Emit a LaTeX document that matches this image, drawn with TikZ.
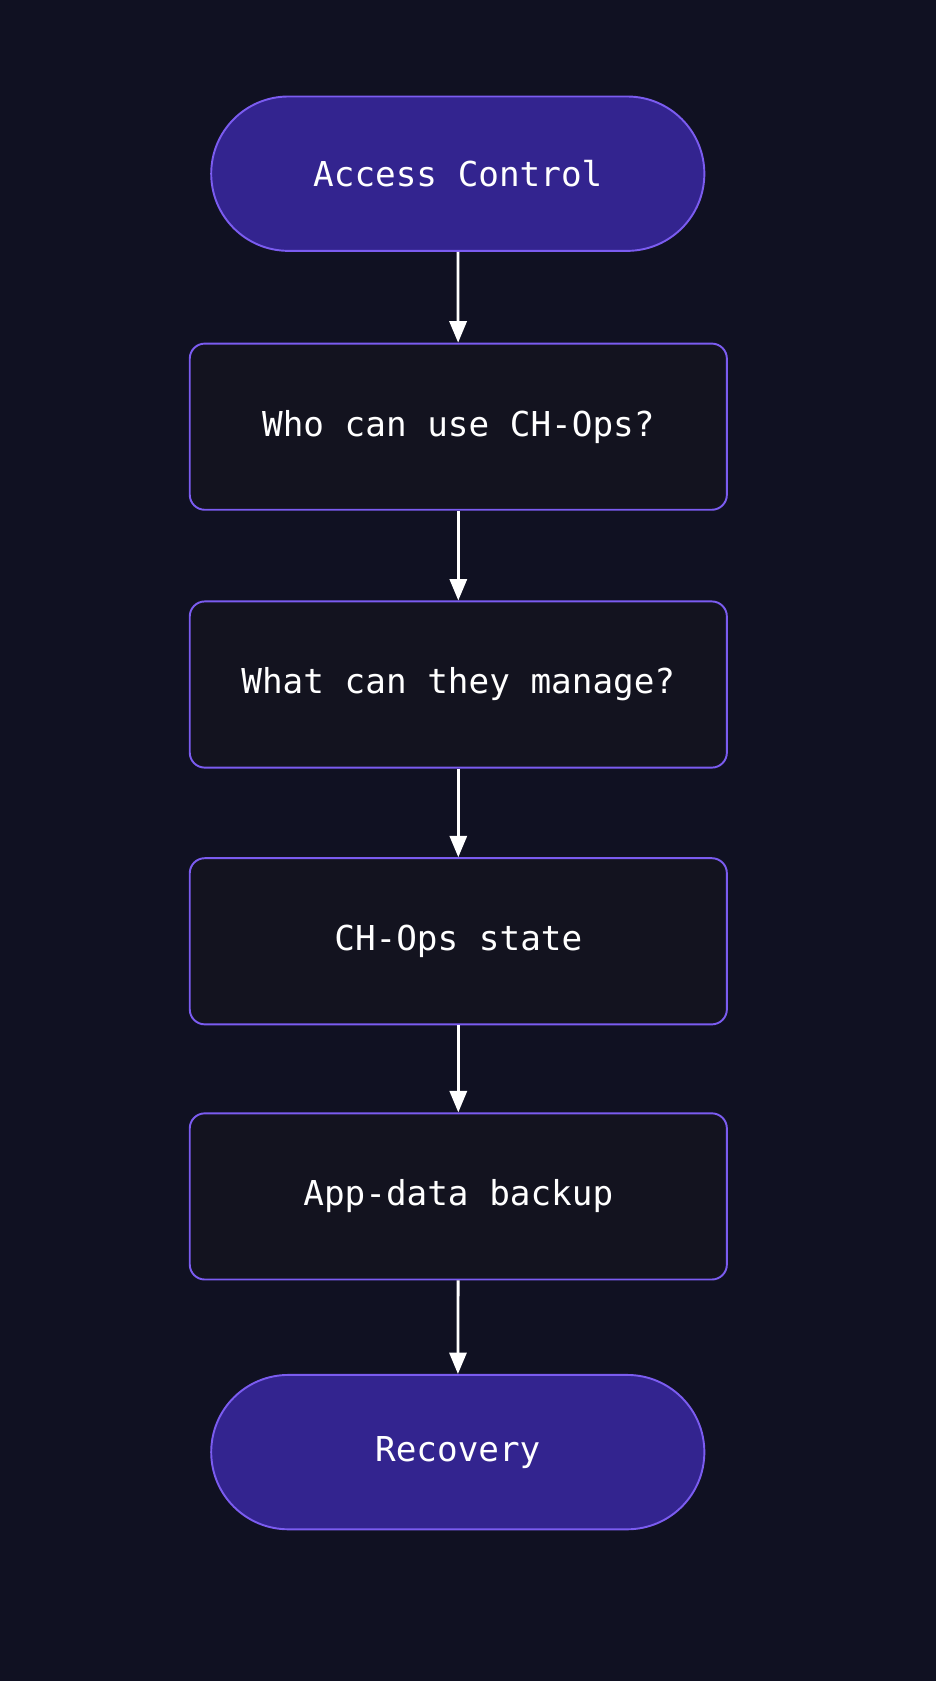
\documentclass[tikz,border=0pt]{standalone}
\usepackage{fontspec}
\setmonofont{DejaVu Sans Mono}
\usetikzlibrary{arrows.meta}
\definecolor{bg}{HTML}{101122}
\definecolor{term}{HTML}{33248F}
\definecolor{edge}{HTML}{7B5CF0}
\definecolor{boxf}{HTML}{13131F}
\begin{document}
\begin{tikzpicture}[x=1pt,y=-1pt,
  base/.style={draw=edge,line width=1.8pt,text=white,font=\ttfamily\fontsize{32}{38}\selectfont},
  termbox/.style={base,fill=term,rounded corners=72pt,minimum width=460pt,minimum height=144pt},
  stepbox/.style={base,fill=boxf,rounded corners=14pt,minimum width=501pt,minimum height=155pt},
  arr/.style={draw=white,line width=2.6pt,-{Triangle[length=20pt,width=16pt]}}]
\fill[bg] (0,0) rectangle (873,1568);
\useasboundingbox (0,0) rectangle (873,1568);
\node[termbox] (a) at (427,162) {Access Control};
\node[stepbox] (b) at (427.5,398) {Who can use CH-Ops?};
\node[stepbox] (c) at (427.5,638.5) {What can they manage?};
\node[stepbox] (d) at (427.5,878) {CH-Ops state};
\node[stepbox] (e) at (427.5,1116) {App-data backup};
\node[termbox] (f) at (427,1354.5) {Recovery};
\draw[arr] (a) -- (b);
\draw[arr] (b) -- (c);
\draw[arr] (c) -- (d);
\draw[arr] (d) -- (e);
\draw[arr] (e) -- (f);
\end{tikzpicture}
\end{document}
